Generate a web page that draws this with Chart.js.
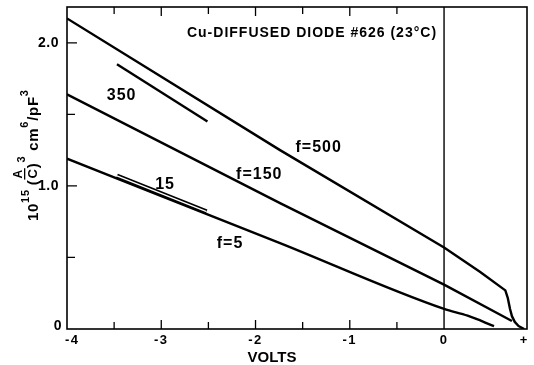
<!DOCTYPE html>
<html>
<head>
<meta charset="utf-8">
<script src="https://cdn.jsdelivr.net/npm/chart.js@4/dist/chart.umd.min.js"></script>
<style>
  html, body { margin: 0; padding: 0; background: #fff; }
</style>
</head>
<body>
<canvas id="diodeChart" width="534" height="365"></canvas>
<script>
// (A/C)^3 against bias, Cu-diffused diode #626 at 23 °C
const chartTitle = 'Cu-DIFFUSED DIODE #626 (23°C)';
const xAxisTitle = 'VOLTS';

// f = 500 curve (bends sharply near forward bias)
const f500Volts = [-4, -1.74, 0, 0.38, 0.65, 0.675, 0.70, 0.72, 0.75, 0.79, 0.85];
const f500Vals  = [2.17, 1.25, 0.57, 0.40, 0.27, 0.22, 0.14, 0.09, 0.05, 0.021, 0];

// f = 150 curve
const f150Volts = [-4, -1.74, 0, 0.72];
const f150Vals  = [1.64, 0.88, 0.31, 0.056];

// f = 5 curve
const f5Volts = [-4, -1.74, 0, 0.25, 0.53];
const f5Vals  = [1.19, 0.60, 0.14, 0.093, 0.02];

// short slope segments for f = 350 and f = 15
const f350Volts = [-3.47, -2.51];
const f350Vals  = [1.85, 1.45];
const f15Volts  = [-3.47, -2.52];
const f15Vals   = [1.07, 0.82];

// axis ticks
const xTickVals   = [-4, -3, -2, -1, 0, 0.85];
const xTickLabels = ['-4', '-3', '-2', '-1', '0', '+'];
const xMinorTicks = [-3.5, -2.5, -1.5, -0.5];
const yTickVals   = [0, 1, 2];
const yTickLabels = ['0', '1.0', '2.0'];
const yMinorTicks = [0.5, 1.5];

// curve captions, anchored in data units
const captions = [
  { text: 'f=500', v: -1.33, y: 1.27 },
  { text: 'f=150', v: -1.96, y: 1.08 },
  { text: 'f=5',   v: -2.27, y: 0.60 },
  { text: '350',   v: -3.42, y: 1.63 },
  { text: '15',    v: -2.96, y: 1.01 }
];

const FONT = '"Liberation Sans", Arial, sans-serif';
const pts = (xs, ys) => xs.map((x, i) => ({ x, y: ys[i] }));

// frame, inward ticks, tick labels, zero-volt line, captions and titles
const decorations = {
  id: 'decorations',
  afterDatasetsDraw(chart) {
    const { ctx, chartArea: a, scales: { x, y } } = chart;
    ctx.save();
    ctx.strokeStyle = '#000';
    ctx.lineWidth = 1.6;
    ctx.strokeRect(a.left, a.top, a.right - a.left, a.bottom - a.top);

    // vertical line at 0 V
    ctx.lineWidth = 1.4;
    ctx.beginPath();
    ctx.moveTo(x.getPixelForValue(0), a.top);
    ctx.lineTo(x.getPixelForValue(0), a.bottom);
    ctx.stroke();

    ctx.lineWidth = 1.3;
    ctx.beginPath();
    const xTick = (v, len) => {
      const px = x.getPixelForValue(v);
      ctx.moveTo(px, a.bottom); ctx.lineTo(px, a.bottom - len);
      ctx.moveTo(px, a.top); ctx.lineTo(px, a.top + len);
    };
    xTickVals.slice(1, 4).forEach(v => xTick(v, 9));
    xMinorTicks.forEach(v => xTick(v, 7));
    const yTick = (v, len) => {
      const py = y.getPixelForValue(v);
      ctx.moveTo(a.left, py); ctx.lineTo(a.left + len, py);
    };
    yTickVals.slice(1).forEach(v => yTick(v, 10));
    yMinorTicks.forEach(v => yTick(v, 8));
    ctx.stroke();

    ctx.fillStyle = '#000';
    ctx.textBaseline = 'middle';

    // tick labels
    ctx.font = 'bold 13px ' + FONT;
    ctx.letterSpacing = '1.5px';
    xTickVals.forEach((v, i) => {
      ctx.textAlign = i === 0 ? 'left' : 'center';
      ctx.fillText(xTickLabels[i], x.getPixelForValue(v) + (i === 0 ? -2 : 0), 340);
    });
    ctx.font = 'bold 14px ' + FONT;
    ctx.letterSpacing = '0.5px';
    ctx.textAlign = 'right';
    yTickVals.forEach((v, i) => {
      const py = y.getPixelForValue(v) - (v === 0 ? 3 : 0);
      ctx.fillText(yTickLabels[i], v === 0 ? 62 : 59, py);
    });

    ctx.textAlign = 'center';
    ctx.font = 'bold 16px ' + FONT;
    ctx.letterSpacing = '1px';
    captions.forEach(c => {
      ctx.fillText(c.text, x.getPixelForValue(c.v), y.getPixelForValue(c.y));
    });

    ctx.font = 'bold 14px ' + FONT;
    ctx.fillText(chartTitle, 312, 33);
    ctx.font = 'bold 15px ' + FONT;
    ctx.letterSpacing = '0px';
    ctx.fillText(xAxisTitle, 272, 358);

    // rotated y title: 10^15 (A/C)^3 cm^6/pF^3
    ctx.translate(38, 221);
    ctx.rotate(-Math.PI / 2);
    ctx.textAlign = 'left';
    ctx.textBaseline = 'alphabetic';
    ctx.letterSpacing = '0.7px';
    let pos = 0;
    const put = (txt, size, rise) => {
      ctx.font = 'bold ' + size + 'px ' + FONT;
      ctx.fillText(txt, pos, rise);
      pos += ctx.measureText(txt).width;
    };
    put('10', 15, 0);
    put('15', 11, -9);
    pos += 4;
    put('(', 15, 0);
    ctx.font = 'bold 12px ' + FONT;
    const aw = ctx.measureText('A').width;
    ctx.fillText('A', pos + 1, -16);
    ctx.fillRect(pos, -14, aw + 2, 1.3);
    ctx.font = 'bold 13px ' + FONT;
    ctx.fillText('C', pos + 1, -1);
    pos += aw + 2;
    put(')', 15, 0);
    put('3', 11, -13);
    pos += 5;
    put('cm', 15, 0);
    put('6', 11, -10);
    put('/pF', 15, 0);
    put('3', 11, -10);
    ctx.restore();
  }
};

const line = (data, width, order) => ({
  data, borderColor: '#000', borderWidth: width, pointRadius: 0, fill: false, tension: 0, order
});

new Chart(document.getElementById('diodeChart'), {
  type: 'line',
  data: {
    datasets: [
      { ...line(pts(f500Volts, f500Vals), 2.4, 2), borderJoinStyle: 'round' },
      line(pts(f150Volts, f150Vals), 2.4, 2),
      { ...line(pts(f5Volts, f5Vals), 2.4, 2), cubicInterpolationMode: 'monotone' },
      line(pts(f350Volts, f350Vals), 2.4, 2),
      line(pts(f15Volts, f15Vals), 4.8, 1),
      { ...line(pts(f15Volts, f15Vals), 1.4, 0), borderColor: '#fff' }
    ]
  },
  options: {
    responsive: false,
    animation: false,
    devicePixelRatio: 1,
    layout: { padding: { top: 7, right: 7, left: 0, bottom: 0 } },
    plugins: { legend: { display: false }, tooltip: { enabled: false } },
    scales: {
      x: {
        type: 'linear', min: -4, max: 0.88,
        afterFit: s => { s.height = 36; },
        grid: { display: false, drawTicks: false },
        border: { display: false },
        ticks: { display: false }
      },
      y: {
        type: 'linear', min: 0, max: 2.25,
        afterFit: s => { s.width = 67; },
        grid: { display: false, drawTicks: false },
        border: { display: false },
        ticks: { display: false }
      }
    }
  },
  plugins: [decorations]
});
</script>
</body>
</html>
